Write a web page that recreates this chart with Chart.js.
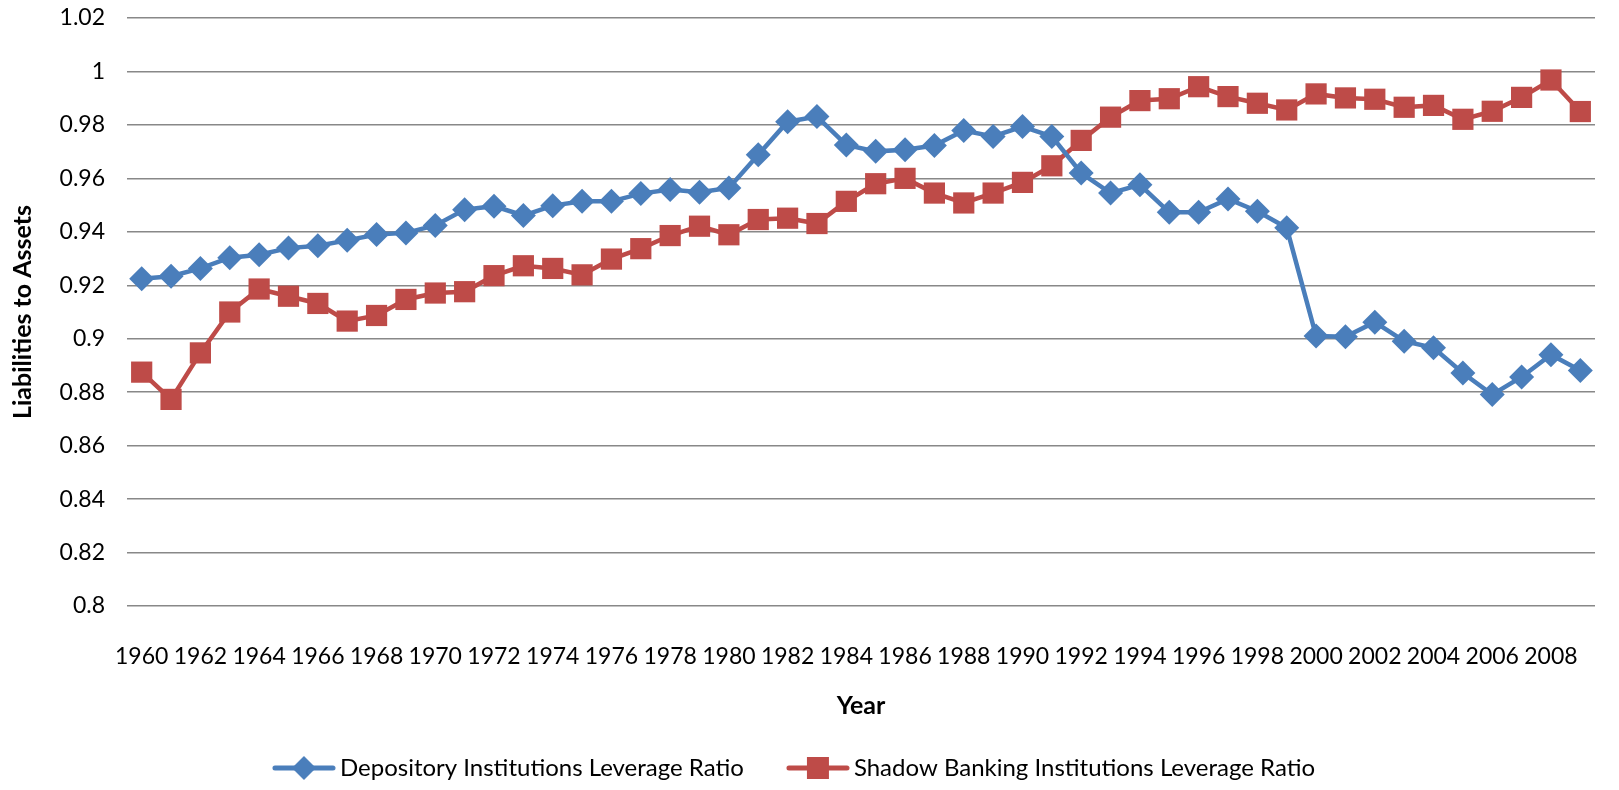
<!DOCTYPE html>
<html>
<head>
<meta charset="utf-8">
<script src="https://cdn.jsdelivr.net/npm/chart.js@4.4.0/dist/chart.umd.min.js"></script>
<style>
  html, body { margin: 0; padding: 0; background: #fff; }
  #wrap { width: 1619px; height: 790px; }
</style>
</head>
<body>
<div id="wrap"><canvas id="chart" width="1619" height="790"></canvas></div>
<script>
const years = [];
for (let y = 1960; y <= 2009; y++) years.push(String(y));

const depository = [
  0.9224, 0.9234, 0.9263, 0.9303, 0.9314, 0.9339, 0.9348, 0.9368, 0.9390, 0.9396,
  0.9424, 0.9483, 0.9496, 0.9461, 0.9498, 0.9514, 0.9514, 0.9543, 0.9558, 0.9548,
  0.9564, 0.9688, 0.9812, 0.9831, 0.9725, 0.9701, 0.9707, 0.9723, 0.9779, 0.9757,
  0.9794, 0.9757, 0.9620, 0.9545, 0.9576, 0.9473, 0.9473, 0.9523, 0.9477, 0.9415,
  0.9010, 0.9007, 0.9062, 0.8991, 0.8966, 0.8872, 0.8791, 0.8857, 0.8940, 0.8881
];

const shadow = [
  0.8875, 0.8773, 0.8947, 0.9100, 0.9186, 0.9159, 0.9132, 0.9066, 0.9087, 0.9147,
  0.9171, 0.9176, 0.9236, 0.9273, 0.9263, 0.9239, 0.9298, 0.9337, 0.9386, 0.9421,
  0.9389, 0.9446, 0.9451, 0.9431, 0.9514, 0.9580, 0.9600, 0.9545, 0.9508, 0.9545,
  0.9585, 0.9647, 0.9742, 0.9829, 0.9891, 0.9898, 0.9943, 0.9906, 0.9881, 0.9856,
  0.9916, 0.9901, 0.9896, 0.9866, 0.9873, 0.9821, 0.9851, 0.9903, 0.9968, 0.9850
];

const blue = '#4a7ebb';
const red = '#be4b48';
const font = 'Lato, "Open Sans", sans-serif';

// legend swatch: line with marker, like the spreadsheet legend
function swatch(color, shape) {
  const c = document.createElement('canvas');
  c.width = 64; c.height = 26;
  const g = c.getContext('2d');
  g.strokeStyle = color; g.lineWidth = 5; g.lineCap = 'round';
  g.beginPath(); g.moveTo(3, 13); g.lineTo(61, 13); g.stroke();
  g.fillStyle = color;
  if (shape === 'diamond') {
    g.beginPath(); g.moveTo(32, 1); g.lineTo(44, 13); g.lineTo(32, 25); g.lineTo(20, 13); g.closePath(); g.fill();
  } else {
    g.fillRect(21, 2, 22, 22);
  }
  return c;
}

const ctx = document.getElementById('chart').getContext('2d');
new Chart(ctx, {
  type: 'line',
  data: {
    labels: years,
    datasets: [
      {
        label: 'Depository Institutions Leverage Ratio',
        data: depository,
        borderColor: blue,
        backgroundColor: blue,
        borderWidth: 4.5,
        pointStyle: 'rectRot',
        pointRadius: 12.5,
        pointBorderWidth: 0,
        tension: 0,
        fill: false
      },
      {
        label: 'Shadow Banking Institutions Leverage Ratio',
        data: shadow,
        borderColor: red,
        backgroundColor: red,
        borderWidth: 4.5,
        pointStyle: 'rect',
        pointRadius: 15,
        pointBorderWidth: 0,
        tension: 0,
        fill: false
      }
    ]
  },
  options: {
    responsive: false,
    animation: false,
    layout: { padding: { left: 0, right: 24, top: 18, bottom: 0 } },
    plugins: {
      legend: {
        position: 'bottom',
        labels: {
          usePointStyle: true,
          pointStyleWidth: 48,
          boxHeight: 22,
          color: '#000',
          font: { family: font, size: 24 },
          padding: 50,
          generateLabels: (chart) => {
            const shapes = ['diamond', 'square'];
            return chart.data.datasets.map((ds, i) => ({
              text: ds.label,
              fillStyle: ds.borderColor,
              strokeStyle: ds.borderColor,
              pointStyle: swatch(ds.borderColor, shapes[i]),
              hidden: false,
              datasetIndex: i,
              fontColor: '#000'
            }));
          }
        }
      },
      tooltip: { enabled: false }
    },
    scales: {
      x: {
        offset: true,
        grid: { display: false },
        border: { display: false },
        ticks: {
          autoSkip: false,
          maxRotation: 0,
          color: '#000',
          padding: 29,
          font: { family: font, size: 23 },
          callback: function (val, i) { return i % 2 === 0 ? this.getLabelForValue(val) : ''; }
        },
        title: {
          display: true,
          text: 'Year',
          color: '#000',
          font: { family: font, size: 25, weight: 'bold' },
          padding: { top: 0, bottom: -15 }
        },
        afterFit: (scale) => {
          scale.height = 100;
          scale.paddingLeft = 0;
          scale.paddingRight = 0;
        }
      },
      y: {
        min: 0.8,
        max: 1.02,
        grid: { color: '#888888', lineWidth: 1.5, drawTicks: false },
        border: { display: false },
        ticks: {
          stepSize: 0.02,
          color: '#000',
          padding: 22,
          font: { family: font, size: 23 },
          callback: (v) => String(Math.round(v * 100) / 100)
        },
        title: {
          display: true,
          text: 'Liabilities to Assets',
          color: '#000',
          font: { family: font, size: 25, weight: 'bold' },
          padding: { top: 8, bottom: 0 }
        },
        afterFit: (scale) => {
          scale.width = 127;
          scale.paddingTop = 0;
          scale.paddingBottom = 0;
        }
      }
    }
  }
});
</script>
</body>
</html>
